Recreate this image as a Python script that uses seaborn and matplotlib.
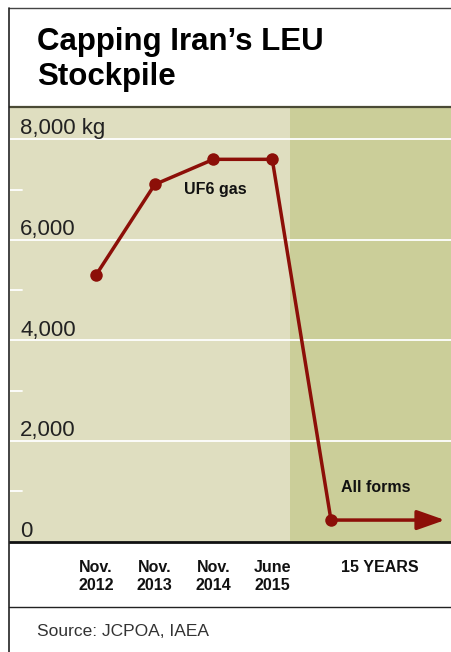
import numpy as np
import matplotlib.pyplot as plt
import seaborn as sns
from matplotlib.lines import Line2D

# data
periods = ["Nov.\n2012", "Nov.\n2013", "Nov.\n2014", "June\n2015"]
future_label = "15 YEARS"
stock_kg = [5300, 7100, 7600, 7600, 430]
y_major = [0, 2000, 4000, 6000, 8000]
y_labels = ["0", "2,000", "4,000", "6,000", "8,000 kg"]
y_minor = [1000, 3000, 5000, 7000]

RED = "#8c0f08"
LIGHT = "#dfdec0"
DARK = "#cbce99"
FONT = ["Liberation Sans", "DejaVu Sans"]


def main():
    sns.set_style("white")
    plt.rcParams["font.family"] = FONT

    fig = plt.figure(figsize=(4.52, 6.52), dpi=100)
    W, H = 452, 652
    ax = fig.add_axes([10 / W, (H - 541.7) / H, 442 / W, (541.7 - 107) / H])
    ax.set_facecolor(LIGHT)

    x = np.arange(len(stock_kg))
    ax.set_xlim(-1.464, 6.06)
    ax.set_ylim(0, 8640)
    ax.axvspan(3.30, 7, color=DARK, zorder=0.2, lw=0)

    # gridlines + short minor ticks
    for v in y_major[1:]:
        ax.axhline(v, color="white", lw=1.3, zorder=0.5)
    for v in y_minor:
        ax.plot([-1.464, -1.26], [v, v], color="white", lw=1.3, zorder=0.5,
                clip_on=False)

    sns.lineplot(x=x, y=stock_kg, ax=ax, color=RED, lw=2.5, marker="o",
                 markersize=9, markeredgewidth=0, zorder=3)
    ax.annotate("", xy=(5.94, stock_kg[-1]), xytext=(x[-1], stock_kg[-1]),
                arrowprops=dict(arrowstyle="-|>,head_length=1.7,head_width=0.6",
                                color=RED, lw=2.5, shrinkA=0, shrinkB=0,
                                mutation_scale=10), zorder=3)

    ax.text(2.03, 7010, "UF6 gas", fontsize=11.5, fontweight="bold",
            ha="center", va="center", color="#111")
    ax.text(4.77, 1080, "All forms", fontsize=11.5, fontweight="bold",
            ha="center", va="center", color="#111")

    for v, lab in zip(y_major, y_labels):
        ax.annotate(lab, xy=(0.023, v), xycoords=("axes fraction", "data"),
                    xytext=(0, 3.5), textcoords="offset points",
                    fontsize=16, va="baseline", ha="left", color="#222")

    ax.set_yticks([])
    ax.set_xticks(list(x[:4]) + [4.83])
    ax.set_xticklabels(periods + [future_label], fontsize=11.5, fontweight="bold",
                       linespacing=1.3, color="#111")
    ax.tick_params(axis="x", length=0, pad=13)

    ax.spines["right"].set_visible(False)
    ax.spines["left"].set_visible(False)
    ax.spines["bottom"].set_color("#111")
    ax.spines["bottom"].set_linewidth(2)
    ax.spines["top"].set_color("#4a4a35")
    ax.spines["top"].set_linewidth(1.6)

    # outer frame lines
    fig.add_artist(Line2D([9 / W, 1], [1 - 8 / H, 1 - 8 / H], color="#444", lw=1))
    fig.add_artist(Line2D([9 / W, 9 / W], [0, 1 - 8 / H], color="#222", lw=1.2))
    fig.add_artist(Line2D([9 / W, 1], [1 - 607 / H, 1 - 607 / H], color="#222", lw=1))

    fig.text(37 / W, 1 - 27 / H, "Capping Iran’s LEU\nStockpile", fontsize=22.5,
             fontweight="bold", va="top", ha="left", linespacing=1.2, color="#000")
    fig.text(37 / W, 1 - 632 / H, "Source: JCPOA, IAEA", fontsize=12.5,
             va="center", ha="left", color="#333")

    fig.savefig("out.png", dpi=100)
    plt.close(fig)


if __name__ == "__main__":
    main()
